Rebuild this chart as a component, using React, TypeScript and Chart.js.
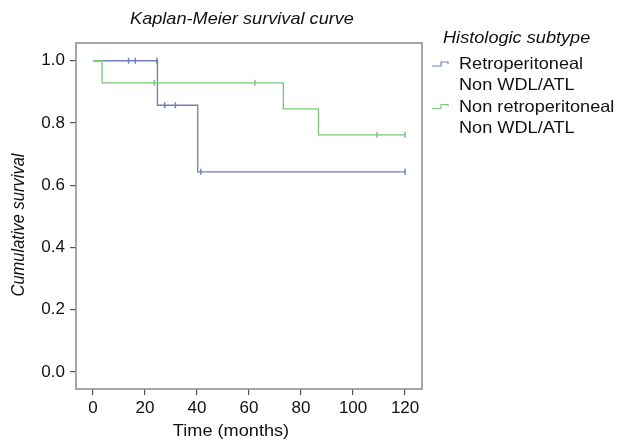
import React, { useEffect, useRef } from "react";
import { Chart, registerables } from "chart.js";

Chart.register(...registerables);

// Retroperitoneal Non WDL/ATL
const retroEventTimes = [0, 24.8, 40.3, 120];
const retroSurvival = [1, 0.857, 0.643, 0.643];
const retroCensorTimes = [13.7, 16.3, 24.6, 27.6, 31.7, 41.5, 120];
const retroCensorSurvival = [1, 1, 1, 0.857, 0.857, 0.643, 0.643];

// Non retroperitoneal Non WDL/ATL
const nonRetroEventTimes = [0, 3.5, 73.2, 86.7, 120];
const nonRetroSurvival = [1, 0.929, 0.845, 0.762, 0.762];
const nonRetroCensorTimes = [23.6, 62.3, 109.2, 120];
const nonRetroCensorSurvival = [0.929, 0.929, 0.762, 0.762];

const xTicks = [0, 20, 40, 60, 80, 100, 120];
const yTicks = [0, 0.2, 0.4, 0.6, 0.8, 1.0];

const seriesLabels = [["Retroperitoneal", "Non WDL/ATL"], ["Non retroperitoneal", "Non WDL/ATL"]];
const chartTitle = "Kaplan-Meier survival curve";
const legendTitle = "Histologic subtype";
const xTitle = "Time (months)";
const yTitle = "Cumulative survival";

const BLUE = "#6f7fbe";
const GREEN = "#7cc67c";
const FONT = '"Liberation Sans", Arial, Helvetica, sans-serif';

function stepPoints(times: number[], surv: number[]) {
  const pts: { x: number; y: number }[] = [];
  for (let i = 0; i < times.length; i++) {
    if (i > 0) pts.push({ x: times[i], y: surv[i - 1] });
    pts.push({ x: times[i], y: surv[i] });
  }
  return pts;
}

function zip(xs: number[], ys: number[]) {
  return xs.map((x, i) => ({ x, y: ys[i] }));
}

function drawText(
  ctx: CanvasRenderingContext2D,
  s: string,
  x: number,
  y: number,
  size: number,
  italic: boolean,
  align: CanvasTextAlign,
  rotate = 0,
  sx = 1.1
) {
  ctx.save();
  ctx.font = `${italic ? "italic " : ""}${size}px ${FONT}`;
  ctx.fillStyle = "#111";
  ctx.textAlign = align;
  ctx.textBaseline = "alphabetic";
  ctx.translate(x, y);
  if (rotate) {
    ctx.rotate(rotate);
    ctx.scale(1, sx);
  } else {
    ctx.scale(sx, 1);
  }
  ctx.fillText(s, 0, 0);
  ctx.restore();
}

const decorPlugin = {
  id: "decor",
  afterDraw(chart: any) {
    const ctx: CanvasRenderingContext2D = chart.ctx;
    const a = chart.chartArea;
    ctx.save();
    ctx.strokeStyle = "#8a8a8a";
    ctx.lineWidth = 1.5;
    ctx.strokeRect(a.left, a.top, a.right - a.left, a.bottom - a.top);
    ctx.restore();

    drawText(ctx, chartTitle, 242, 24, 16.5, true, "center");
    drawText(ctx, xTitle, 231, 436, 16.5, false, "center");
    drawText(ctx, yTitle, 24, 225, 16.5, true, "center", -Math.PI / 2);
    drawText(ctx, legendTitle, 443, 43, 16.5, true, "left");

    const colors = [BLUE, GREEN];
    const baseY = [69, 111.5];
    for (let i = 0; i < 2; i++) {
      const by = baseY[i];
      drawText(ctx, seriesLabels[i][0], 459, by, 16.5, false, "left");
      drawText(ctx, seriesLabels[i][1], 459, by + 21, 16.5, false, "left");
      const iy = by - 5;
      ctx.save();
      ctx.strokeStyle = colors[i];
      ctx.lineWidth = 1.2;
      ctx.beginPath();
      ctx.moveTo(432, iy + 2);
      ctx.lineTo(441, iy + 2);
      ctx.lineTo(441, iy - 2);
      ctx.lineTo(448, iy - 2);
      ctx.lineTo(448, iy);
      ctx.stroke();
      ctx.restore();
    }
  },
};

export default function App() {
  const ref = useRef<HTMLCanvasElement | null>(null);
  useEffect(() => {
    if (!ref.current) return;
    const chart = new Chart(ref.current, {
      type: "scatter",
      data: {
        datasets: [
          {
            label: "nonretro",
            data: stepPoints(nonRetroEventTimes, nonRetroSurvival),
            showLine: true,
            borderColor: GREEN,
            borderWidth: 1.3,
            pointRadius: 0,
            fill: false,
          },
          {
            label: "nonretro censored",
            data: zip(nonRetroCensorTimes, nonRetroCensorSurvival),
            showLine: false,
            pointStyle: "line",
            rotation: 90,
            pointRadius: 3,
            borderColor: GREEN,
            borderWidth: 1.5,
          },
          {
            label: "retro",
            data: stepPoints(retroEventTimes, retroSurvival),
            showLine: true,
            borderColor: BLUE,
            borderWidth: 1.3,
            pointRadius: 0,
            fill: false,
          },
          {
            label: "retro censored",
            data: zip(retroCensorTimes, retroCensorSurvival),
            showLine: false,
            pointStyle: "line",
            rotation: 90,
            pointRadius: 3,
            borderColor: BLUE,
            borderWidth: 1.5,
          },
        ] as any,
      },
      options: {
        animation: false,
        responsive: false,
        layout: { padding: { top: 43, left: 0, right: 198, bottom: 0 } },
        plugins: { legend: { display: false }, title: { display: false }, tooltip: { enabled: false } },
        scales: {
          x: {
            type: "linear",
            min: -6.5,
            max: 126.5,
            afterFit: (s: any) => {
              s.height = 53;
            },
            afterBuildTicks: (s: any) => {
              s.ticks = xTicks.map((v) => ({ value: v }));
            },
            grid: { drawOnChartArea: false, drawTicks: true, tickLength: 6, color: "#555", lineWidth: 1.2 },
            border: { display: false },
            ticks: { color: "#111", font: { size: 17, family: FONT }, padding: 3, callback: (v: any) => String(v) },
          },
          y: {
            type: "linear",
            min: -0.055,
            max: 1.057,
            afterFit: (s: any) => {
              s.width = 76;
            },
            afterBuildTicks: (s: any) => {
              s.ticks = yTicks.map((v) => ({ value: v }));
            },
            grid: { drawOnChartArea: false, drawTicks: true, tickLength: 6, color: "#555", lineWidth: 1.2 },
            border: { display: false },
            ticks: {
              color: "#111",
              font: { size: 17, family: FONT },
              padding: 5,
              callback: (v: any) => Number(v).toFixed(1),
            },
          },
        },
      },
      plugins: [decorPlugin],
    } as any);
    return () => chart.destroy();
  }, []);
  return (
    <div style={{ position: "absolute", left: 0, top: 0, width: 620, height: 442, background: "#fff" }}>
      <canvas ref={ref} width={620} height={442} />
    </div>
  );
}
